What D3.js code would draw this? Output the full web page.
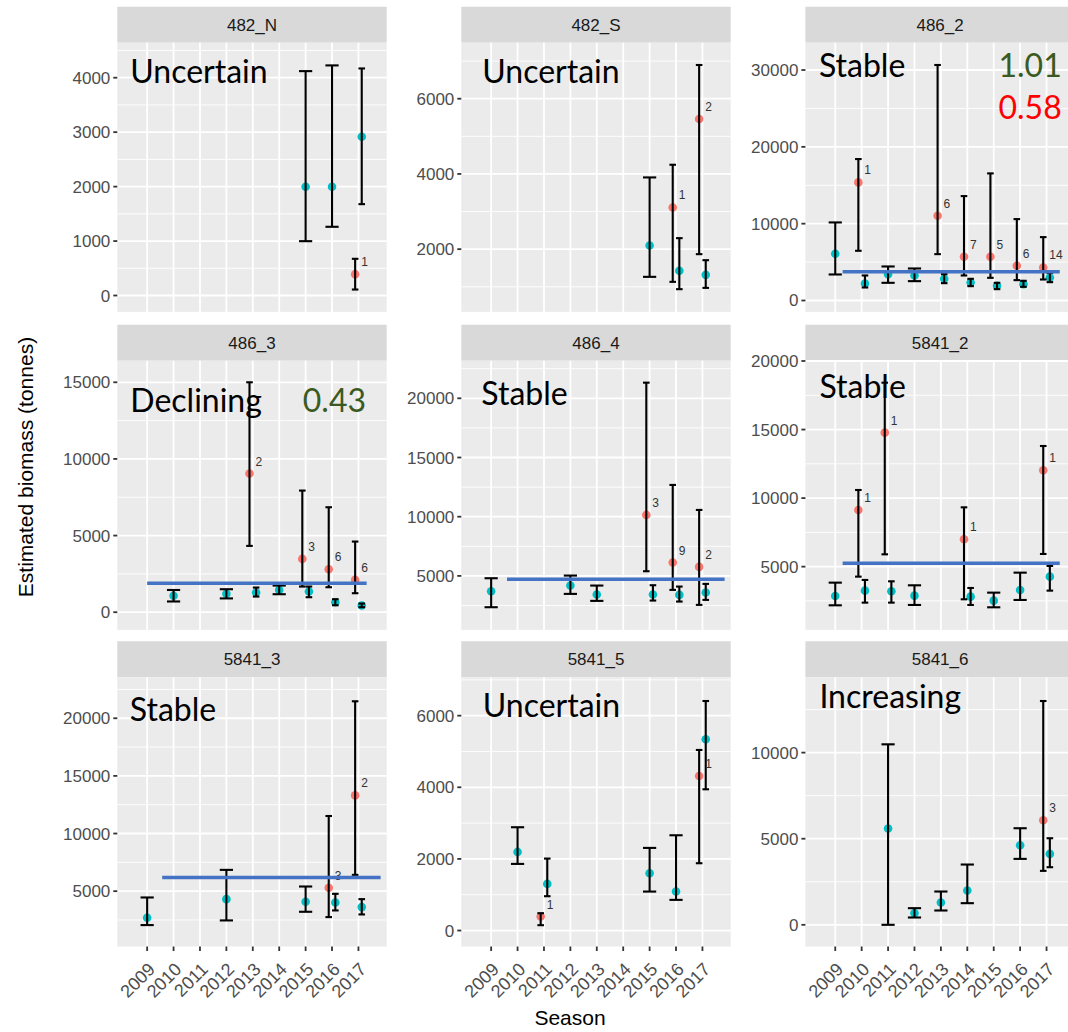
<!DOCTYPE html>
<html>
<head>
<meta charset="utf-8">
<script src="https://cdn.jsdelivr.net/npm/d3@7"></script>
<style>
body { margin: 0; background: #fff; }
svg { display: block; font-family: "Liberation Sans", Arial, sans-serif; }
</style>
</head>
<body>
<svg id="chart" width="1068" height="1032"></svg>
<script>
// facets, in reading order
const panels = ["482_N", "482_S", "486_2", "486_3", "486_4", "5841_2", "5841_3", "5841_5", "5841_6"];
const seasons = [2009, 2010, 2011, 2012, 2013, 2014, 2015, 2016, 2017];

// y limits and tick values for each facet (free y scales)
const yLimits = [[-301, 4643], [332, 7489], [-1484, 33555], [-1154, 16408], [439, 23176],
                 [386, 20022], [199, 23553], [-446, 7071], [-1259, 14374]];
const yTickValues = [
  [0, 1000, 2000, 3000, 4000],
  [2000, 4000, 6000],
  [0, 10000, 20000, 30000],
  [0, 5000, 10000, 15000],
  [5000, 10000, 15000, 20000],
  [5000, 10000, 15000, 20000],
  [5000, 10000, 15000, 20000],
  [0, 2000, 4000, 6000],
  [0, 5000, 10000]
];

// teal series: [facet, season, estimate, lower, upper]
const tealEstimates = [
  ["482_N", 2015, 1996, 998, 4121], ["482_N", 2016, 1996, 1262, 4226], ["482_N", 2017, 2915, 1678, 4170],
  ["482_S", 2015, 2098, 1264, 3907], ["482_S", 2016, 1424, 936, 2293], ["482_S", 2017, 1317, 971, 1707],
  ["486_2", 2009, 6079, 3387, 10160], ["486_2", 2010, 2214, 1693, 3257], ["486_2", 2011, 3430, 2301, 4429],
  ["486_2", 2012, 3257, 2518, 4168], ["486_2", 2013, 2822, 2258, 3430], ["486_2", 2014, 2345, 1867, 2822],
  ["486_2", 2015, 1910, 1476, 2301], ["486_2", 2016, 2128, 1780, 2562], ["486_2", 2017, 2996, 2388, 3604],
  ["486_3", 2010, 1070, 700, 1450], ["486_3", 2012, 1200, 900, 1500], ["486_3", 2013, 1283, 1022, 1609],
  ["486_3", 2014, 1457, 1174, 1739], ["486_3", 2015, 1348, 978, 1674], ["486_3", 2016, 652, 456, 848],
  ["486_3", 2017, 435, 326, 565],
  ["486_4", 2009, 3706, 2355, 4803], ["486_4", 2012, 4184, 3480, 5028], ["486_4", 2013, 3424, 2890, 4184],
  ["486_4", 2015, 3424, 2918, 4212], ["486_4", 2016, 3396, 2833, 4100], ["486_4", 2017, 3593, 2974, 4325],
  ["5841_2", 2009, 2861, 2180, 3833], ["5841_2", 2010, 3250, 2375, 4028], ["5841_2", 2011, 3201, 2375, 3930],
  ["5841_2", 2012, 2885, 2204, 3639], ["5841_2", 2014, 2812, 2204, 3444], ["5841_2", 2015, 2520, 2034, 3104],
  ["5841_2", 2016, 3298, 2569, 4562], ["5841_2", 2017, 4271, 3250, 5049],
  ["5841_3", 2009, 2692, 2057, 4452], ["5841_3", 2012, 4308, 2461, 6846], ["5841_3", 2015, 4077, 3211, 5404],
  ["5841_3", 2016, 4019, 3327, 4769], ["5841_3", 2017, 3615, 2981, 4308],
  ["5841_5", 2010, 2195, 1860, 2884], ["5841_5", 2011, 1302, 958, 2009], ["5841_5", 2015, 1600, 1088, 2307],
  ["5841_5", 2016, 1088, 856, 2660], ["5841_5", 2017, 5339, 3944, 6409],
  ["5841_6", 2011, 5589, 0, 10482], ["5841_6", 2012, 677, 425, 967], ["5841_6", 2013, 1296, 832, 1934],
  ["5841_6", 2014, 1992, 1257, 3501], ["5841_6", 2016, 4622, 3829, 5609], ["5841_6", 2017, 4119, 3346, 5028]
];

// red series: [facet, season, estimate, lower, upper, n]
const redEstimates = [
  ["482_N", 2017, 392, 110, 674, 1],
  ["482_S", 2016, 3109, 1131, 4244, 1], ["482_S", 2017, 5459, 1867, 6896, 2],
  ["486_2", 2010, 15371, 6470, 18410, 1], ["486_2", 2013, 11029, 6035, 30654, 6],
  ["486_2", 2014, 5688, 3257, 13590, 7], ["486_2", 2015, 5688, 2953, 16543, 5],
  ["486_2", 2016, 4516, 2649, 10595, 6], ["486_2", 2017, 4299, 2735, 8250, 14],
  ["486_3", 2013, 9044, 4326, 15000, 2], ["486_3", 2015, 3478, 1674, 7935, 3],
  ["486_3", 2016, 2804, 1630, 6848, 6], ["486_3", 2017, 2109, 1239, 4609, 6],
  ["486_4", 2015, 10150, 5394, 21321, 3], ["486_4", 2016, 6126, 3818, 12682, 9],
  ["486_4", 2017, 5760, 2552, 10572, 2],
  ["5841_2", 2010, 9133, 4271, 10591, 1], ["5841_2", 2011, 14773, 5899, 18419, 1],
  ["5841_2", 2014, 6993, 2618, 9327, 1], ["5841_2", 2017, 12026, 5924, 13800, 1],
  ["5841_3", 2016, 5289, 2750, 11520, 3], ["5841_3", 2017, 13309, 6414, 21473, 2],
  ["5841_5", 2011, 391, 149, 484, 1], ["5841_5", 2017, 4316, 1879, 5042, 1],
  ["5841_6", 2017, 6073, 3133, 12997, 3]
];

// blue reference levels: [facet, level, from season, to season]
const referenceLevels = [
  ["486_2", 3734, 2009.28, 2017.5],
  ["486_3", 1891, 2009.0, 2017.31],
  ["486_4", 4719, 2009.6, 2017.84],
  ["5841_2", 5243, 2009.28, 2017.5],
  ["5841_3", 6183, 2009.57, 2017.84]
];

const trendLabels = ["Uncertain", "Uncertain", "Stable", "Declining", "Stable", "Stable", "Stable", "Uncertain", "Increasing"];
// [facet, text, kind]
const ratioLabels = [["486_2", "1.01", "good"], ["486_2", "0.58", "bad"], ["486_3", "0.43", "good"]];

// ---- layout ----
const colLeft = [117.3, 461.3, 805.4];
const rowTop = [42.7, 360.7, 677.3];
const panelW = 269.4, panelH = 269.2, stripH = 36;
const trendPos = [[13, 40.6], [21, 40.6], [13.5, 34.6], [13, 51], [20, 44.3], [14, 37.6], [12.5, 43.4], [21.5, 40], [14, 31]];
const ratioPos = [[256.3, 34.6], [256.3, 76.6], [248.7, 51]];
const ratioColors = { good: "#3a5a22", bad: "#ff0000" };
const RED = "#F8766D", TEAL = "#00BFC4";

const svg = d3.select("#chart");
const x = d3.scaleLinear().domain([2007.87, 2018.07]);

function has(rows, p, yr) { return rows.some(r => r[0] === p && r[1] === yr); }

panels.forEach((p, i) => {
  const col = i % 3, row = Math.floor(i / 3);
  const left = colLeft[col], top = rowTop[row];
  const xs = x.copy().range([left, left + panelW]);
  const y = d3.scaleLinear().domain(yLimits[i]).range([top + panelH, top]);
  const ticks = yTickValues[i];
  const step = ticks[1] - ticks[0];
  const minor = [ticks[0] - step / 2].concat(ticks.map(t => t + step / 2))
    .filter(v => v > yLimits[i][0] && v < yLimits[i][1]);

  const g = svg.append("g");

  // strip
  g.append("rect").attr("x", left).attr("y", top - stripH).attr("width", panelW).attr("height", stripH).attr("fill", "#d9d9d9");
  g.append("text").attr("x", left + panelW / 2).attr("y", top - stripH / 2 + 6)
    .attr("text-anchor", "middle").attr("font-size", 17).attr("fill", "#1a1a1a").text(p);

  // panel
  g.append("rect").attr("x", left).attr("y", top).attr("width", panelW).attr("height", panelH).attr("fill", "#ebebeb");
  g.selectAll(".minor").data(minor).enter().append("line")
    .attr("x1", left).attr("x2", left + panelW).attr("y1", d => y(d)).attr("y2", d => y(d))
    .attr("stroke", "#fff").attr("stroke-width", 0.9);
  g.selectAll(".major").data(ticks).enter().append("line")
    .attr("x1", left).attr("x2", left + panelW).attr("y1", d => y(d)).attr("y2", d => y(d))
    .attr("stroke", "#fff").attr("stroke-width", 1.8);
  g.selectAll(".vgrid").data(seasons).enter().append("line")
    .attr("x1", d => xs(d)).attr("x2", d => xs(d)).attr("y1", top).attr("y2", top + panelH)
    .attr("stroke", "#fff").attr("stroke-width", 1.8);

  // y axis
  g.selectAll(".ytick").data(ticks).enter().append("line")
    .attr("x1", left - 4).attr("x2", left).attr("y1", d => y(d)).attr("y2", d => y(d))
    .attr("stroke", "#333").attr("stroke-width", 1.8);
  g.selectAll(".ylab").data(ticks).enter().append("text")
    .attr("x", left - 7).attr("y", d => y(d) + 6).attr("text-anchor", "end")
    .attr("font-size", 17).attr("fill", "#4d4d4d").text(d => d);

  // x axis on bottom row
  if (row === 2) {
    g.selectAll(".xtick").data(seasons).enter().append("line")
      .attr("x1", d => xs(d)).attr("x2", d => xs(d)).attr("y1", top + panelH).attr("y2", top + panelH + 4.5)
      .attr("stroke", "#333").attr("stroke-width", 1.8);
    g.selectAll(".xlab").data(seasons).enter().append("text")
      .attr("transform", d => `translate(${xs(d) + 9},${top + panelH + 24}) rotate(-45)`)
      .attr("text-anchor", "end").attr("font-size", 18).attr("fill", "#4d4d4d").text(d => d);
  }

  // estimates with dodge
  const groups = [
    { rows: redEstimates.filter(r => r[0] === p), color: RED, side: -1 },
    { rows: tealEstimates.filter(r => r[0] === p), color: TEAL, side: 1 }
  ];
  groups.forEach(gr => {
    gr.rows.forEach(r => {
      const both = has(redEstimates, p, r[1]) && has(tealEstimates, p, r[1]);
      r.xc = both ? r[1] + gr.side * 0.125 : r[1];
      r.half = both ? 0.125 : 0.25;
    });
    g.selectAll(null).data(gr.rows).enter().append("circle")
      .attr("cx", d => xs(d.xc)).attr("cy", d => y(d[2])).attr("r", 4.3).attr("fill", gr.color);
  });
  groups.forEach(gr => {
    const eb = g.selectAll(null).data(gr.rows).enter().append("g")
      .attr("stroke", "#000").attr("stroke-width", 2.1);
    eb.append("line").attr("x1", d => xs(d.xc)).attr("x2", d => xs(d.xc))
      .attr("y1", d => y(d[3])).attr("y2", d => y(d[4]));
    eb.append("line").attr("x1", d => xs(d.xc - d.half)).attr("x2", d => xs(d.xc + d.half))
      .attr("y1", d => y(d[3])).attr("y2", d => y(d[3]));
    eb.append("line").attr("x1", d => xs(d.xc - d.half)).attr("x2", d => xs(d.xc + d.half))
      .attr("y1", d => y(d[4])).attr("y2", d => y(d[4]));
  });
  // sample size labels next to red points
  g.selectAll(null).data(groups[0].rows).enter().append("text")
    .attr("x", d => xs(d.xc) + 6).attr("y", d => y(d[2]) - 8)
    .attr("font-size", 12).attr("fill", "#333").text(d => d[5]);

  // blue reference level
  referenceLevels.filter(r => r[0] === p).forEach(r => {
    g.append("line").attr("x1", xs(r[2])).attr("x2", xs(r[3])).attr("y1", y(r[1])).attr("y2", y(r[1]))
      .attr("stroke", "#4472c4").attr("stroke-width", 3.5);
  });

  // trend annotation
  g.append("text").attr("x", left + trendPos[i][0]).attr("y", top + trendPos[i][1])
    .attr("font-family", "Lato, 'Open Sans', sans-serif").attr("font-size", 32).attr("fill", "#000")
    .text(trendLabels[i]);
  ratioLabels.forEach((r, k) => {
    if (r[0] !== p) return;
    g.append("text").attr("x", left + ratioPos[k][0]).attr("y", top + ratioPos[k][1])
      .attr("text-anchor", "end").attr("font-family", "Lato, 'Open Sans', sans-serif")
      .attr("font-size", 32).attr("fill", ratioColors[r[2]]).text(r[1]);
  });
});

// axis titles
svg.append("text").attr("transform", "translate(33,467) rotate(-90)").attr("text-anchor", "middle")
  .attr("font-size", 21).attr("fill", "#000").text("Estimated biomass (tonnes)");
svg.append("text").attr("x", 570).attr("y", 1025).attr("text-anchor", "middle")
  .attr("font-size", 21).attr("fill", "#000").text("Season");
</script>
</body>
</html>
